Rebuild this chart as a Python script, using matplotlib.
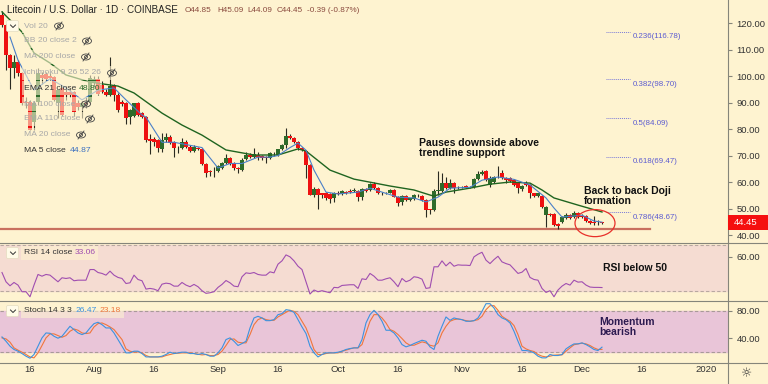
import matplotlib
matplotlib.use('Agg')
import matplotlib.pyplot as plt
from matplotlib.patches import Ellipse, Rectangle, FancyBboxPatch
import numpy as np

plt.rcParams['font.family'] = ['Liberation Sans', 'DejaVu Sans']

# candles, one per day
opens = [123,119.2,107.9,102.9,105.4,101,90.3,90.3,82.8,90.3,100.4,100.8,100,99.5,89.7,95.3,94,94,94,89.7,88.4,90,90.3,97.5,98.7,96.6,94,92.8,96.2,92.8,90.3,89.7,84.7,85,89.7,85.9,84.7,
         76.1,76.1,75.8,72.3,75.8,76.9,75,73,73,75.2,73.3,71.8,72.9,72.4,66.7,64,64.2,64.2,65.4,67,68.9,67.3,65.4,64.5,68.7,70.2,69.5,
         70.2,69.8,69.5,68.9,70.3,70.2,72.3,74,77.5,76.7,75,73,71.8,66.4,55.1,57.3,55.7,55.7,55.3,53.8,56,55.5,56.1,56.5,56.5,56.7,54.2,57.3,57,59.2,57.6,55.9,55.8,56,57,54.5,52.6,54.7,53.2,53.6,54.9,54.7,53.2,49.7,49.4,56.7,56.7,59.7,57.6,59.7,57.9,58.2,58.5,58.2,58.2,61.1,63,64.1,58.9,59.9,62,63.5,61.7,61.4,
         60.8,59.5,57.2,59.5,58.9,55.7,54.8,54.8,47.5,47.9,47.9,44.1,45,46.3,47.5,46.7,48.4,47.2,47.2,45.4,44.9,44.7,44.85]
highs = [124.5,119.6,108.3,107.9,106,101.5,92,91,90.5,103,101.5,101.5,101,100,94.9,96,95,95,94.5,91,90.5,92,100.5,100,100,98,95,107,97,93.5,91,90.3,87.5,90,90.2,86.5,85,
         78,77,76.3,78.4,78.4,77.6,75.4,73.5,76.5,75.7,73.8,73.8,73.4,72.8,67,64.5,65.5,66.5,67.5,70.5,69.5,67.7,65.8,69,71.5,71,72.8,
         71.5,70.3,69.9,71.2,71.5,72.6,74.4,80.2,78,77,75.6,73.4,72.1,66.7,58,57.8,56,56.1,55.8,56.1,56.6,57,56.7,57.5,57.6,57.1,57.7,57.7,59.5,60,58,56.3,56.4,57.4,57.4,54.9,55,55,54,55.5,55.3,55,53.5,50,57.5,64.3,63.5,62,61,60.1,58.5,58.6,59,58.6,61.4,64.3,64.4,64.5,62.1,62.4,66,64.6,62,61.8,
         61.2,60,58.8,60.5,59.2,56,56,55.2,51,48.3,48.3,44.5,47,48.5,47.9,49,48.8,48,47.5,45.8,47,45.5,45.09]
lows = [118.5,102.3,95,99.1,100,89,88,79.6,79.8,89,97,98,98.5,90.5,84,85,91,92,85,87,84,88,90,96,93,93.5,92.5,92.5,90.5,86.5,88.5,82,82,84.5,85,84,75,
        70.4,73.5,71.4,71.5,75,74.4,69.6,71,72.5,72.9,71.4,71.4,71.9,66.4,62,62.2,62,63.8,65,66.7,66.4,64.5,63.5,64.2,68.4,69.2,69.2,
        68.3,68.5,67,68.6,69.8,69.9,72,73,76.4,74.7,72,71.8,61.4,55,54.5,50,54,53.4,52,52.5,55.2,55.2,55.5,55.9,56.2,53,53.2,56.2,56.7,57.2,55.3,55.2,55.5,55.7,54.2,50.9,51.5,52.8,52.9,53.2,54.3,52.9,46.9,48,49,55,56.4,57.2,57.3,56,57.4,57.6,57.8,57.6,57.8,60.7,62.6,60.4,58,59.5,61.4,61,59.5,60,
        58.6,55.7,56.8,58.6,53.8,54.5,54.4,50.2,43.1,47.2,43.5,42.1,44.6,45.9,46,46.3,46.6,46.5,45,44.1,43.8,43.7,44.09]
closes = [119.2,107.9,102.9,105.4,101,89.7,89.7,79.8,89.7,101,99.1,98.8,99.4,90.9,94.7,85.3,92.8,92.8,86.5,88.4,90,89.5,99.1,99,93.4,94,92.8,96.2,92.8,87.2,89.4,84,87.2,89.7,85.3,84.7,75.8,
          75.6,75.2,72.7,75.8,76.9,74.8,72.9,72.9,75.2,73.3,71.8,73.3,72.3,66.7,63.5,63.8,64,66,67,68.9,66.8,65.2,64.8,68.5,70.2,69.5,70.5,
          69.3,69,68.9,70.8,70.1,72.3,74,77.5,76.7,75,73,72.1,66.4,55.1,57.3,55.1,55.1,53.8,53.6,55.7,55.5,56.5,56,56.2,57,54.2,57.3,56.6,59.1,57.6,55.7,55.7,56,57,54.5,52.2,54.7,53.2,53.8,55.1,54.7,53.2,49.4,49.5,56.7,57,59.7,57.6,59.7,57.6,57.7,58,58.3,58,61.1,63,63.9,60.8,61.7,62,61.9,61.4,60.8,60.4,
          58.9,57.6,58.5,58.9,55.7,54.8,55.7,50.4,50.4,47.7,43.8,43.4,46.7,47.5,46.3,48.4,46.9,46.9,45.4,44.4,44.6,44.6,44.45]

# moving averages at some days
ema_days = [0,5,8,12,16,22,29,33,40,45,50,56,63,69,74,76,82,88,97,103,107,108,111,117,122,127,132,135,138,144,150]
ema_vals = [124.2,116.6,108.7,104.9,100.4,97.7,96.2,93.6,86,81.5,77.7,72.1,70.2,70.2,72.5,71.7,64.5,61.1,58.5,57,55.1,54.7,56.2,57.7,59.2,60,59.6,57,54,51.3,48.7]
ma_days = [2,4,8,12,16,20,24,28,31,35,36,40,43,50,51,54,57,60,64,67,69,72,74,76,78,81,84,89,92,95,99,103,106,109,112,117,120,124,128,132,136,138,140,143,145,148,150]
ma_vals = [114.7,106,94.7,99,95.5,91,94.7,95.5,91,85.3,84.5,75,75,73,71,65.3,67,67,69.4,69.4,70,73,74.7,72,64.5,56.2,55.5,56.2,57.7,56.2,54.3,54,52.5,54.3,57.7,58,60.7,61.9,61,58.9,54,50.2,46.8,47.2,47.5,45.3,44.87]

rsi = [46.2,38.1,34.6,37.5,35.2,29.4,29.4,25,35.2,44.5,43,44.5,43.9,41,38.1,41.6,41,41.6,39,39.5,39.5,39.5,48.8,48.8,46.2,45.4,43.9,47.4,43.9,41.9,41,36.6,37.2,43.9,40.1,39,31.7,32.3,31.7,30.3,36,36.9,36.4,34.3,34.3,37.5,35.2,33.8,35.8,33.8,30.3,28,28.5,29.4,33.2,35.8,39.2,37.2,34.3,33.8,42.5,45.9,45.4,46.2,44.5,43.9,43.9,46.8,45.9,53.5,56.4,61.6,59.9,56.4,51.7,48.8,38.1,27.4,30.9,29.4,30.3,29.4,28.5,33.2,32.9,34.9,35.2,35.5,35.5,32.3,40.7,40.1,45.4,43,39.5,39.5,
       40.7,41.6,38.1,33.8,41,38.1,39.5,42.5,41.9,40.4,32.3,32.9,51.2,51.2,56.4,52,55.2,51.7,52.9,52.6,52.6,52.3,59.9,62.2,63.9,57,54,57.5,60.4,55.5,54,52.9,49.1,45.4,46.5,49.7,41.9,40.1,39.5,32.3,28.8,30.3,25,30.9,34.3,36.6,35.2,39.5,37.8,38.1,35.2,33.5,33.2,33.2,33.06]
stoch_k = [41.6,35.2,27.9,23,20.5,17,13.1,10.1,15.6,27.9,40.2,47.5,47,42.6,39.7,42.6,50,57.4,52.5,47.5,45.1,47.5,54.9,61.3,63.3,59.8,54.9,54.9,47.5,37.7,27.9,18,18,20.5,20.5,17,12,12,12,12,13.1,15.6,19,17,18,19,19,17,17,15.6,17,15.6,13.1,13.1,18,25.4,37.7,40.2,35.2,28.9,31.8,35.2,54.9,69.7,72.1,69.7,65.7,65.7,67.2,74.6,76.1,82,81,78,67.2,56.4,46.6,27.9,18,12,15.6,18,18,18,19,20.5,23,24.4,25.4,25.4,37.7,62.3,74.6,81,74.6,64.8,
           51.5,51.5,47.5,40.2,30.3,26.9,28.9,31.8,34.3,36.7,35.2,26.9,23,42.6,57.4,71.2,66.2,69.7,68.2,67.2,64.8,64.8,65.7,69.7,79.5,90.8,90.8,84.4,74.6,69.7,67.2,62.3,50,35.2,21.5,21.5,20.5,18,13.1,10.6,10.6,15.6,14.1,14.1,15.6,23.9,27.9,31.3,31.3,32.8,30.3,26.9,23,21.5,26.47]
stoch_d = [40.2,38.7,33.8,25.4,22,19,15.6,12,10.6,18,28.9,40.2,46.1,46.1,43.6,41.1,43.6,50,53.4,51.5,47.5,46.6,47.5,56.4,61.3,62.3,59.8,56.4,52.5,45.1,37.7,23.9,20.5,19,19.5,18,14.1,12,12,12,12,14.1,15.6,17,17.5,18,18,18,17,16,15,15.6,14.1,14.1,15.6,20.5,28.9,37.7,38.7,33.8,32.8,32.8,45.1,59.8,67.2,69.7,67.2,66.2,66.2,71.2,74.6,78,81,79.5,74.6,64.8,54.9,40.2,23,15.6,15.6,17,18,18,18,20.5,22,23.9,25.4,25.4,30.3,47.5,64.8,74.6,74.6,69.7,
           62.3,52.5,50,45.1,39.2,32.8,29.3,29.3,31.8,34.3,32.8,29.3,27.9,32.8,47.5,57.4,64.8,67.2,68.2,67.2,65.7,64.8,65.7,67.2,72.1,82,87.9,87.9,81,72.1,68.2,64.8,58.4,45.1,27.9,23.9,21.5,20,15.6,13.1,12,13.1,14.6,15,15,20.5,25.4,30,31.3,32.3,31.3,28.9,25.4,23,23.18]

fib_levels = [116.78,98.70,84.09,69.47,48.67]
fib_names = ['0.236','0.382','0.5','0.618','0.786']
price_ticks = [120,110,100,90,80,70,60,50,40]
time_ticks = [7,23,38,54,69,84,99,115,130,145,160,176]
time_labels = ['16','Aug','16','Sep','16','Oct','16','Nov','16','Dec','16','2020']

BG = '#fef3d0'
AXC = '#85857a'
W, H = 768, 384

def panel(top, bottom):
    a = fig.add_axes([0, 1 - bottom / H, 728 / W, (bottom - top) / H], facecolor=BG)
    a.set_xlim(-0.5, 181.5)
    a.set_xticks([])
    for s in ['left', 'top', 'bottom']:
        a.spines[s].set_visible(False)
    a.spines['right'].set_color(AXC)
    a.yaxis.tick_right()
    a.tick_params(axis='y', labelsize=6.8, length=3, color=AXC, labelcolor='#333333', pad=3, width=0.8)
    return a

fig = plt.figure(figsize=(7.68, 3.84), dpi=100, facecolor=BG)

# prijs paneel
ax = panel(0, 243)
ax.set_ylim(37, 128.68)
x = np.arange(len(closes))
o, h, l, c = map(np.array, (opens, highs, lows, closes))
up = c >= o
ax.vlines(x, l, h, color='#2a2a20', lw=0.8, zorder=2)
ax.bar(x[up], (c - o)[up], bottom=o[up], width=0.8, color='#2f6b2a', zorder=3)
ax.bar(x[~up], (o - c)[~up], bottom=c[~up], width=0.8, color='#ee1111', zorder=3)
ax.plot(ema_days, ema_vals, color='#1f6420', lw=1.0, zorder=4)
ax.plot(ma_days, ma_vals, color='#4a7fc8', lw=0.8, zorder=4)
ax.plot([-0.5, 162], [42.3, 42.3], color='#c9705f', lw=1.6, zorder=1)
ax.add_patch(Ellipse((148.25, 44.5), 10, 10.2, fill=False, ec='#e8302a', lw=0.9, zorder=5))
ax.hlines(fib_levels, 151, 157, color='#7a7ad8', lw=0.7, linestyles=(0, (1, 1)))
for lv, nm in zip(fib_levels, fib_names):
    ax.annotate(f'{nm}({lv:.2f})', (157.7, lv), xytext=(0, -5), textcoords='offset pixels', fontsize=5.7,
                color='#5c5cd0', va='center')
ax.set_yticks(price_ticks)
ax.set_yticklabels([f'{p:.2f}' for p in price_ticks])

# RSI
ax2 = panel(243, 301)
ax2.set_ylim(21.3, 72)
ax2.axhspan(30, 70, color='#f5dcd2', zorder=0)
for lv in (30, 70):
    ax2.axhline(lv, color='#b8a8a0', lw=0.8, ls=(0, (3, 2)), zorder=1)
ax2.plot(x, rsi, color='#a04eb0', lw=0.8, zorder=3)
ax2.set_yticks([60])
ax2.set_yticklabels(['60.00'])

# Stoch
ax3 = panel(301, 363)
ax3.set_ylim(3, 94.8)
ax3.axhspan(20, 80, color='#e9c5d8', zorder=0)
for lv in (20, 80):
    ax3.axhline(lv, color='#a89a98', lw=0.8, ls=(0, (3, 2)), zorder=1)
ax3.plot(x, stoch_d, color='#f0763c', lw=0.8, zorder=3)
ax3.plot(x, stoch_k, color='#3c92e0', lw=0.8, zorder=4)
ax3.set_yticks([80, 40])
ax3.set_yticklabels(['80.00', '40.00'])

# tijd as
ax4 = panel(363, 384)
ax4.set_ylim(0, 1)
ax4.set_yticks([])
ax4.set_xticks(time_ticks)
ax4.set_xticklabels(time_labels)
ax4.tick_params(axis='x', labelsize=6.8, length=0, labelcolor='#333333', pad=-14)
for a in (ax2, ax3, ax4):
    a.spines['top'].set_visible(True)
    a.spines['top'].set_color(AXC)

# laag met teksten in pixels
ov = fig.add_axes([0, 0, 1, 1], facecolor='none')
ov.set_xlim(0, W)
ov.set_ylim(H, 0)
ov.axis('off')
ov.plot([728, 768], [243, 243], color=AXC, lw=0.8)
ov.plot([728, 768], [301, 301], color=AXC, lw=0.8)
ov.plot([728, 768], [363, 363], color=AXC, lw=0.8)

def label(px, py, s, color='#333333', size=6.1, **kw):
    return ov.text(px, py, s, color=color, fontsize=size, va='center', **kw)

def veil(x0, x1, py):
    ov.add_patch(Rectangle((x0, py - 7), x1 - x0, 14, fc=BG, ec='none', alpha=0.6))

label(7, 10, 'Litecoin / U.S. Dollar · 1D · COINBASE', color='#222222', size=7.1)
ohlc = [(185, 'O44.85'), (217, 'H45.09'), (247, 'L44.09'), (277, 'C44.45'), (307, '-0.39 (-0.87%)')]
for px, s in ohlc:
    label(px, 10, s, color='#8a4a3e', size=5.9)

rows = [(26, 'Vol 20', 59), (41, 'BB 20 close 2', 87), (57, 'MA 200 close', 86),
        (73, 'Ichimoku 9 26 52 26', 112), (104, 'MA 100 close', 86), (119, 'EMA 110 close', 90),
        (135, 'MA 20 close', 81)]
for py, s, ex in rows:
    veil(22, ex + 7, py)
    label(24, py, s, color='#a8a8a8')
    ov.add_patch(Ellipse((ex, py), 9, 6, fill=False, ec='#444444', lw=0.6))
    ov.add_patch(Ellipse((ex, py), 3, 3, fill=False, ec='#444444', lw=0.6))
    ov.plot([ex - 3, ex + 3], [py + 4, py - 4], color='#444444', lw=0.6)
veil(22, 102, 88)
label(24, 88, 'EMA 21 close', color='#333333')
label(79, 88, '48.80', color='#2b6b2b')
label(24, 150, 'MA 5 close', color='#333333')
label(70, 150, '44.87', color='#3a6fc0')

for py in (26, 253, 311):
    ov.add_patch(FancyBboxPatch((8, py - 4), 9, 8, boxstyle='round,pad=1.5', fc='#fffbe8', ec='#e4dcc0', lw=0.5))
    ov.plot([10.5, 13, 15.5], [py - 1, py + 1.5, py - 1], color='#333333', lw=0.7)

veil(21, 98, 253)
label(24, 253, 'RSI 14 close')
label(75, 253, '33.06', color='#a04eb0')
veil(21, 124, 311)
label(24, 311, 'Stoch 14 3 3')
label(76, 311, '26.47', color='#3c92e0')
label(100, 311, '23.18', color='#f0763c')

ann = dict(fontweight='bold', size=7.5)
label(419, 143, 'Pauses downside above', color='#111111', **ann)
label(419, 153, 'trendline support', color='#111111', **ann)
label(584, 190.5, 'Back to back Doji', color='#111111', **ann)
label(584, 201, 'formation', color='#111111', **ann)
label(603, 268, 'RSI below 50', color='#111111', **ann)
label(599, 322, 'Momentum', color='#2c1a50', **ann)
label(599, 332, 'bearish', color='#2c1a50', **ann)

ov.add_patch(Rectangle((728, 215), 40, 15, fc='#f50f0f', ec='none'))
label(734, 222.5, '44.45', color='white', size=6.8)
ov.text(747, 374, '\u263c', fontsize=9, color='#333333', ha='center', va='center', family='DejaVu Sans')

fig.savefig('out.png', dpi=100)
